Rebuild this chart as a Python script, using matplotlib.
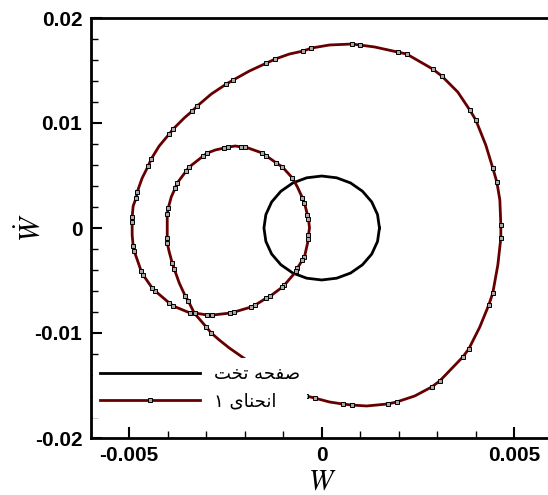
import matplotlib
matplotlib.use("Agg")
import matplotlib.pyplot as plt
import numpy as np

# plate response (black ellipse), values in units of 1e-3
plate_w = [1.50, 1.45, 1.30, 1.06, 0.75, 0.39, 0.00, -0.39, -0.75, -1.06, -1.30, -1.45,
           -1.50, -1.45, -1.30, -1.06, -0.75, -0.39, 0.00, 0.39, 0.75, 1.06, 1.30, 1.45, 1.50]
plate_wd = [0.00, 1.28, 2.48, 3.50, 4.29, 4.78, 4.95, 4.78, 4.29, 3.50, 2.48, 1.28,
            0.00, -1.28, -2.48, -3.50, -4.29, -4.78, -4.95, -4.78, -4.29, -3.50, -2.48, -1.28, 0.00]

# curved panel (red curve), values in units of 1e-3
curve_w = [0.775, 0.984, 1.374, 1.972, 2.207, 2.883, 3.117, 3.534, 3.846, 4.002,
           4.262, 4.444, 4.549, 4.627, 4.653, 4.653, 4.575, 4.444, 4.340, 4.106,
           3.820, 3.664, 3.065, 2.857, 2.415, 1.946, 1.712, 1.166, 0.775, 0.541,
           0.203, -0.187, -0.396, -0.760, -1.358, -1.879, -2.399, -2.659, -2.868, -2.998,
           -3.310, -3.466, -3.544, -3.700, -3.830, -3.882, -3.960, -4.012, -4.012, -4.012,
           -4.012, -3.986, -3.908, -3.804, -3.752, -3.518, -3.440, -3.076, -2.972, -2.763,
           -2.529, -2.425, -2.243, -2.087, -1.983, -1.540, -1.436, -1.176, -1.020, -0.760,
           -0.630, -0.500, -0.448, -0.370, -0.343, -0.317, -0.343, -0.343, -0.448, -0.500,
           -0.630, -0.656, -0.968, -1.020, -1.332, -1.436, -1.723, -1.827, -2.269, -2.373,
           -2.842, -2.972, -3.284, -3.414, -3.856, -3.960, -4.325, -4.403, -4.637, -4.689,
           -4.871, -4.897, -4.923, -4.923, -4.923, -4.897, -4.819, -4.793, -4.663, -4.507,
           -4.429, -4.221, -3.960, -3.856, -3.570, -3.362, -3.232, -2.868, -2.477, -2.295,
           -1.879, -1.436, -1.202, -0.838, -0.474, -0.265, 0.203, 0.775]
curve_wd = [17.52, 17.43, 17.24, 16.76, 16.57, 15.14, 14.48, 12.95, 11.24, 10.29,
            7.90, 5.71, 4.38, 2.67, 0.29, -0.95, -3.52, -6.19, -7.33, -9.43,
            -11.52, -12.29, -14.57, -15.14, -16.00, -16.57, -16.76, -16.95, -16.86, -16.76,
            -16.57, -16.19, -16.00, -15.43, -14.19, -12.76, -11.43, -10.67, -10.00, -9.43,
            -8.10, -6.95, -6.48, -5.24, -3.90, -3.33, -2.29, -1.43, -0.95, 0.29,
            1.33, 1.90, 2.95, 3.81, 4.29, 5.43, 5.81, 6.86, 7.14, 7.43,
            7.62, 7.71, 7.81, 7.71, 7.71, 7.14, 6.86, 6.19, 5.81, 4.76,
            3.90, 2.86, 2.38, 1.24, 0.86, 0.00, -0.67, -1.05, -2.76, -3.05,
            -3.81, -4.10, -5.43, -5.62, -6.48, -6.67, -7.33, -7.52, -8.00, -8.10,
            -8.29, -8.29, -8.10, -8.10, -7.43, -7.14, -6.00, -5.71, -4.48, -4.10,
            -2.19, -1.71, -0.67, 0.57, 1.05, 2.10, 2.86, 3.43, 4.76, 5.90,
            6.57, 7.81, 8.95, 9.43, 10.48, 11.14, 11.62, 12.76, 13.71, 14.10,
            14.95, 15.71, 16.10, 16.57, 16.86, 17.14, 17.43, 17.52]
# points of the curve that carry a square symbol
mark_idx = [0, 1, 3, 4, 5, 6, 8, 9, 11, 12, 14, 15, 17, 18, 20, 21, 22, 23, 25, 26,
            28, 29, 31, 32, 38, 39, 41, 42, 44, 45, 47, 48, 50, 51, 53, 54, 55, 56, 57, 58,
            60, 61, 63, 64, 65, 66, 67, 68, 69, 71, 72, 73, 74, 76, 77, 78, 79, 80, 81, 82,
            83, 84, 85, 86, 87, 88, 89, 90, 91, 92, 93, 94, 95, 96, 97, 98, 99, 100, 101, 103,
            104, 106, 107, 109, 110, 112, 113, 115, 116, 118, 119, 121, 122, 124, 125]

# legend labels (Persian, written in shaped presentation forms, visual order)
label_plate = "\uFE96\uFEA8\uFE97 \uFEEA\uFEA4\uFED4\uFEBB"   # صفحه تخت
label_curve = "\u06F1 \uFEEF\uFE8E\uFEE8\uFEA4\uFEE7\uFE8D"   # انحنای ۱

xticks = [-0.005, 0, 0.005]
xtick_labels = ["-0.005", "0", "0.005"]
yticks = [-0.02, -0.01, 0, 0.01, 0.02]
ytick_labels = ["-0.02", "-0.01", "0", "0.01", "0.02"]

plt.rcParams['mathtext.fontset'] = 'stix'

fig = plt.figure(figsize=(5.48, 4.95), dpi=100)
ax = fig.add_axes([90.7/548, 57/495, 462/548, 420/495])

pw = np.array(plate_w)*1e-3
pwd = np.array(plate_wd)*1e-3
cw = np.array(curve_w)*1e-3
cwd = np.array(curve_wd)*1e-3

ax.plot(pw, pwd, color='black', lw=2.0, label=label_plate)
ax.plot(cw, cwd, color='#660000', lw=2.0, marker='s', ms=3.5, mfc='#a8a8a8',
        mec='black', mew=0.7, markevery=mark_idx, label=label_curve)

ax.set_xlim(-0.006, 0.006)
ax.set_ylim(-0.02, 0.02)

ax.set_xticks(xticks)
ax.set_xticklabels(xtick_labels)
ax.set_yticks(yticks)
ax.set_yticklabels(ytick_labels)
ax.set_xticks(np.arange(-0.006, 0.0061, 0.001), minor=True)
ax.set_yticks(np.arange(-0.02, 0.0201, 0.002), minor=True)
ax.tick_params(which='major', direction='in', length=8, width=1.5, pad=6)
ax.tick_params(which='minor', direction='in', length=5, width=1.0)
for lab in ax.get_xticklabels() + ax.get_yticklabels():
    lab.set_fontsize(15)
    lab.set_fontweight('bold')
    lab.set_family('Liberation Sans')

for s in ['left', 'bottom', 'top']:
    ax.spines[s].set_linewidth(2)
ax.spines['right'].set_visible(False)

ax.set_xlabel(r'$W$', fontsize=21)
ax.set_ylabel(r'$\dot{W}$', fontsize=21)
ax.xaxis.set_label_coords(0.5, -0.068)
ax.yaxis.set_label_coords(-0.10, 0.5)

leg = ax.legend(loc='upper left', bbox_to_anchor=(0.005, 0.19), borderaxespad=0,
                frameon=True, fancybox=False, edgecolor='none', facecolor='white',
                framealpha=1, handlelength=5.5, handletextpad=0.8, labelspacing=0.5,
                borderpad=0.4, prop={'family': 'DejaVu Sans', 'size': 13})
leg.set_zorder(5)

fig.savefig('out.png', dpi=100)
